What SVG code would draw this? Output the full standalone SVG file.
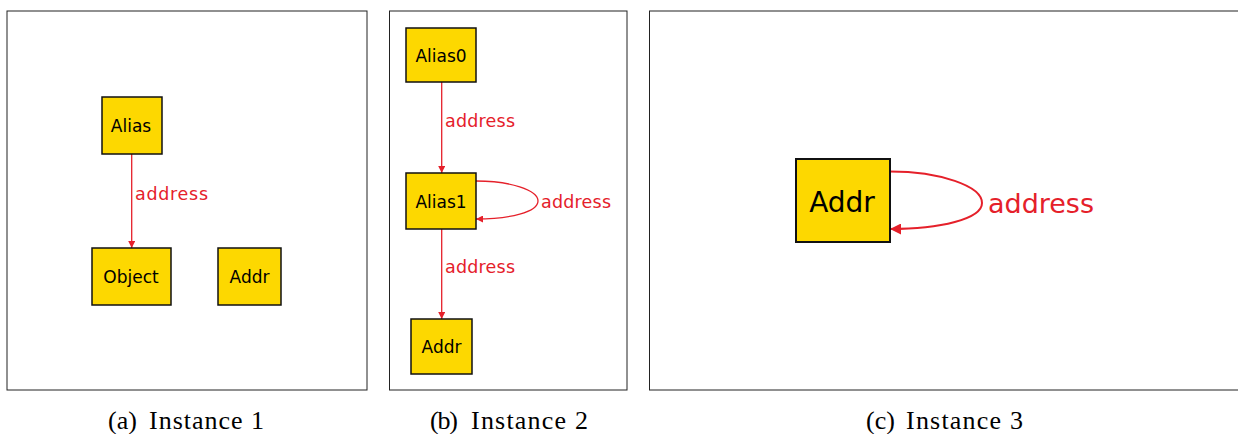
<svg xmlns="http://www.w3.org/2000/svg" width="1238" height="434" viewBox="0 0 1238 434">
<style>
.frame{fill:#fff;stroke:#222;stroke-width:1}
.node{fill:#FDD800;stroke:#111;stroke-width:1.5}
.nt{font-family:"DejaVu Sans",sans-serif;font-size:17px;fill:#000;text-anchor:middle}
.el{font-family:"DejaVu Sans",sans-serif;font-size:17.5px;fill:#E5202A}
.edge{fill:none;stroke:#E5202A;stroke-width:1.3}
.cap{font-family:"Liberation Serif",serif;font-size:26px;fill:#000}
</style>
<defs>
<marker id="ah" viewBox="0 0 10 10" refX="10" refY="5" markerWidth="7" markerHeight="7" orient="auto" markerUnits="userSpaceOnUse"><path d="M0,0 L10,5 L0,10 z" fill="#E5202A"/></marker>
<marker id="ahb" viewBox="0 0 10 10" refX="10" refY="5" markerWidth="13" markerHeight="11" orient="auto" markerUnits="userSpaceOnUse"><path d="M0,0 L10,5 L0,10 z" fill="#E5202A"/></marker>
</defs>
<rect class="frame" x="7" y="11" width="360" height="379"/>
<rect class="frame" x="389.5" y="11" width="237.5" height="379"/>
<rect class="frame" x="649.5" y="11" width="600" height="379"/>
<g id="connectors">
<line class="edge" x1="131.7" y1="154" x2="131.7" y2="248" marker-end="url(#ah)"/>
<text class="el" x="135" y="200" textLength="73" lengthAdjust="spacing">address</text>
<line class="edge" x1="441.7" y1="82" x2="441.7" y2="173" marker-end="url(#ah)"/>
<text class="el" x="445" y="127" textLength="70" lengthAdjust="spacing">address</text>
<path class="edge" d="M476,181 C510,181 538,190 538,201 C538,212 510,219 476,219" marker-end="url(#ah)"/>
<text class="el" x="541" y="208" textLength="70" lengthAdjust="spacing">address</text>
<line class="edge" x1="441.7" y1="229" x2="441.7" y2="319" marker-end="url(#ah)"/>
<text class="el" x="445" y="273" textLength="70" lengthAdjust="spacing">address</text>
<path class="edge" style="stroke-width:2" d="M890,171.5 C940,171.5 982,186 982,203 C982,219 940,229 890,229" marker-end="url(#ahb)"/>
<text class="el" style="font-size:27px" x="988" y="213" textLength="106" lengthAdjust="spacing">address</text>
</g>
<g id="a-alias"><rect class="node" x="102" y="97" width="60" height="57"/><text class="nt" x="131" y="132">Alias</text></g>
<g id="a-object"><rect class="node" x="92" y="248" width="79" height="57"/><text class="nt" x="131" y="283">Object</text></g>
<g id="a-addr"><rect class="node" x="218" y="248" width="63" height="57"/><text class="nt" x="249.5" y="283">Addr</text></g>
<g id="b-alias0"><rect class="node" x="406" y="28" width="70" height="54"/><text class="nt" x="441" y="62">Alias0</text></g>
<g id="b-alias1"><rect class="node" x="406" y="173" width="70" height="56"/><text class="nt" x="441" y="208">Alias1</text></g>
<g id="b-addr"><rect class="node" x="411" y="319" width="61" height="55"/><text class="nt" x="441.5" y="353">Addr</text></g>
<g id="c-addr"><rect class="node" style="stroke-width:2" x="796" y="159" width="94" height="83"/><text class="nt" style="font-size:28px" x="842" y="212">Addr</text></g>
<text class="cap" x="108" y="429" textLength="29" lengthAdjust="spacing">(a)</text><text class="cap" x="149" y="429" textLength="115" lengthAdjust="spacing">Instance 1</text>
<text class="cap" x="430" y="429" textLength="28" lengthAdjust="spacing">(b)</text><text class="cap" x="471" y="429" textLength="117" lengthAdjust="spacing">Instance 2</text>
<text class="cap" x="866" y="429" textLength="29" lengthAdjust="spacing">(c)</text><text class="cap" x="906" y="429" textLength="117" lengthAdjust="spacing">Instance 3</text>
</svg>
